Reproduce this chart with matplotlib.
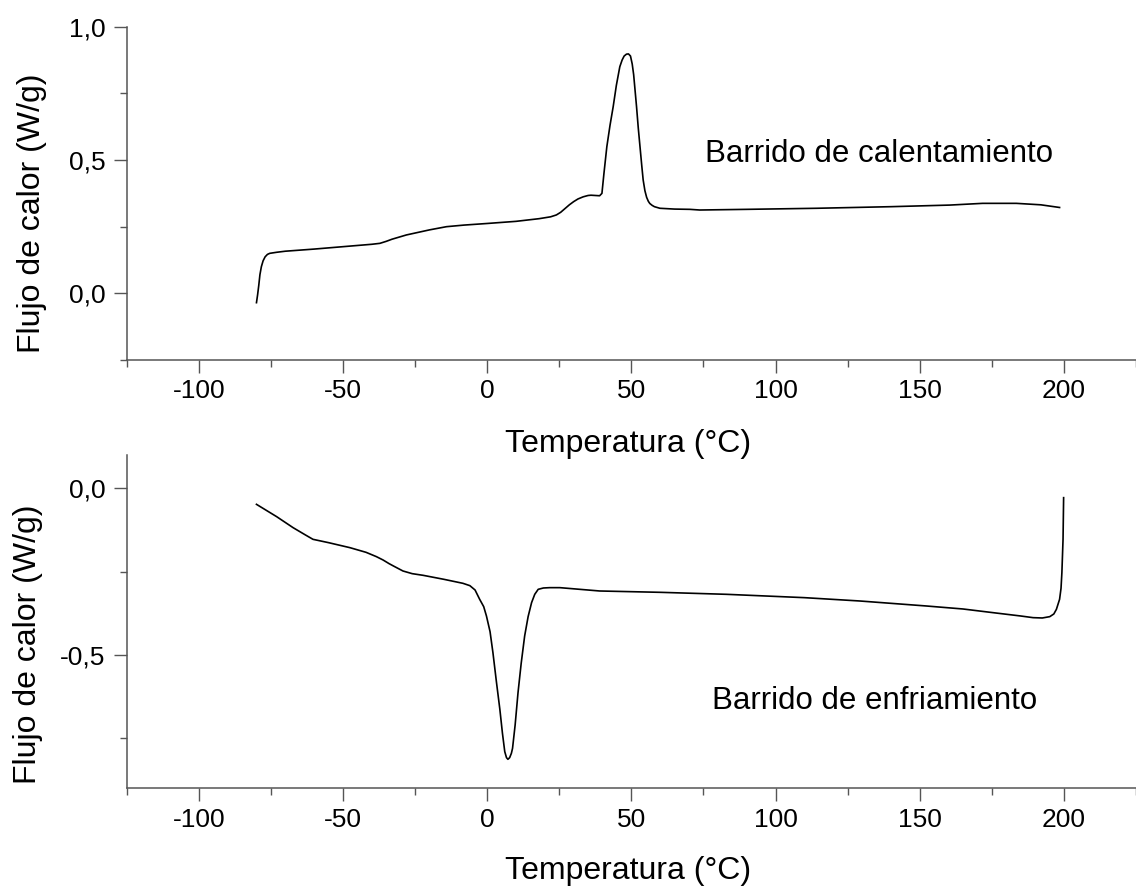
import matplotlib
matplotlib.use("Agg")
import matplotlib.pyplot as plt
from matplotlib.ticker import MultipleLocator

plt.rcParams['font.family'] = ['Liberation Sans', 'DejaVu Sans']

# Heating scan (Barrido de calentamiento)
heat_T = [-80.0, -79.6, -79.2, -78.8, -78.3, -77.7, -77.0, -76.2, -75.4, -73.0, -70.0,
          -60.0, -50.0, -40.0, -37.2, -35.0, -33.0, -28.0, -20.0, -14.1, -8.0, 0.0,
          10.0, 18.0, 22.0, 24.0, 25.5, 27.0, 28.5, 30.0, 31.5, 33.3, 35.0, 36.0,
          37.5, 39.0, 39.8, 40.5, 41.5, 42.6, 43.7, 44.8, 46.0, 46.8, 47.5, 48.3,
          49.0, 49.7, 50.3, 50.8, 51.3, 51.8, 52.4, 53.0, 53.6, 54.1, 54.7, 55.3,
          55.9, 56.4, 57.2, 58.0, 59.9, 65.0, 70.3, 73.7, 90.0, 114.2, 140.0, 160.4,
          171.8, 183.5, 192.0, 198.5]
heat_Q = [-0.035, -0.005, 0.03, 0.07, 0.10, 0.122, 0.137, 0.146, 0.15, 0.154, 0.158,
          0.166, 0.175, 0.184, 0.1875, 0.195, 0.203, 0.219, 0.238, 0.25, 0.256, 0.262,
          0.27, 0.28, 0.287, 0.294, 0.304, 0.318, 0.332, 0.344, 0.354, 0.362, 0.367,
          0.368, 0.367, 0.366, 0.375, 0.45, 0.55, 0.63, 0.70, 0.78, 0.85, 0.875, 0.89,
          0.897, 0.898, 0.89, 0.86, 0.82, 0.76, 0.70, 0.62, 0.55, 0.48, 0.425, 0.385,
          0.36, 0.345, 0.337, 0.33, 0.325, 0.319, 0.316, 0.315, 0.3125, 0.315, 0.319,
          0.325, 0.331, 0.3375, 0.3375, 0.332, 0.322]

# Cooling scan (Barrido de enfriamiento)
cool_T = [-80.0, -73.0, -67.3, -63.0, -60.4, -55.0, -47.6, -42.0, -38.4, -36.1, -34.0,
          -32.5, -29.2, -26.0, -22.2, -15.0, -8.4, -6.0, -4.2, -2.6, -1.2, -0.25, 1.0,
          2.0, 3.2, 4.4, 5.3, 6.1, 6.7, 7.2, 7.8, 8.4, 8.8, 9.7, 10.7, 11.8, 13.0,
          14.2, 15.4, 16.5, 17.7, 19.5, 21.7, 25.2, 39.0, 60.0, 83.0, 110.0, 129.2,
          152.3, 165.0, 175.4, 185.0, 189.3, 192.5, 195.1, 196.5, 197.4, 198.5, 199.0,
          199.3, 199.7, 199.9]
cool_Q = [-0.048, -0.085, -0.118, -0.14, -0.153, -0.163, -0.178, -0.192, -0.205, -0.215,
          -0.226, -0.233, -0.248, -0.256, -0.261, -0.273, -0.285, -0.292, -0.305, -0.333,
          -0.355, -0.383, -0.43, -0.493, -0.58, -0.663, -0.735, -0.79, -0.808, -0.813,
          -0.808, -0.795, -0.78, -0.71, -0.613, -0.525, -0.443, -0.385, -0.343, -0.318,
          -0.303, -0.299, -0.298, -0.298, -0.308, -0.312, -0.318, -0.328, -0.338,
          -0.353, -0.362, -0.373, -0.383, -0.388, -0.389, -0.385, -0.377, -0.363,
          -0.333, -0.30, -0.253, -0.153, -0.028]

x_ticks = [-100, -50, 0, 50, 100, 150, 200]
x_tick_labels = ['-100', '-50', '0', '50', '100', '150', '200']
heat_y_ticks = [0.0, 0.5, 1.0]
heat_y_labels = ['0,0', '0,5', '1,0']
cool_y_ticks = [-0.5, 0.0]
cool_y_labels = ['-0,5', '0,0']

x_label = 'Temperatura (°C)'
y_label = 'Flujo de calor (W/g)'
heat_text = 'Barrido de calentamiento'
cool_text = 'Barrido de enfriamiento'

W, H = 1136, 890
fig = plt.figure(figsize=(W / 100, H / 100), dpi=100)
ax1 = fig.add_axes([126.7 / W, 1 - 360 / H, 1 - 126.7 / W, (360 - 26.7) / H])
ax2 = fig.add_axes([126.7 / W, 1 - 788.3 / H, 1 - 126.7 / W, (788.3 - 455) / H])

spine_col = '#555555'
for ax in (ax1, ax2):
    for s in ('top', 'right'):
        ax.spines[s].set_visible(False)
    for s in ('left', 'bottom'):
        ax.spines[s].set_color(spine_col)
        ax.spines[s].set_linewidth(1.1)
    ax.set_xlim(-125, 225)
    ax.set_xticks(x_ticks)
    ax.set_xticklabels(x_tick_labels)
    ax.xaxis.set_minor_locator(MultipleLocator(25))
    ax.yaxis.set_minor_locator(MultipleLocator(0.25))
    ax.tick_params(which='major', direction='out', length=9.5, width=1.0,
                   color=spine_col, labelsize=19, pad=4.5)
    ax.tick_params(which='minor', direction='out', length=5, width=1.0,
                   color=spine_col)
    ax.tick_params(axis='y', which='major', pad=6)
    ax.patch.set_alpha(0)

ax1.plot(heat_T, heat_Q, color='black', lw=1.2)
ax1.set_ylim(-0.25, 1.0)
ax1.set_yticks(heat_y_ticks)
ax1.set_yticklabels(heat_y_labels)
ax1.text(75.4, 0.491, heat_text, fontsize=22.5, ha='left', va='baseline')

ax2.plot(cool_T, cool_Q, color='black', lw=1.2)
ax2.set_ylim(-0.9, 0.1)
ax2.set_yticks(cool_y_ticks)
ax2.set_yticklabels(cool_y_labels)
ax2.text(77.9, -0.663, cool_text, fontsize=22.5, ha='left', va='baseline')

fig.text(32 / W, 1 - 213.5 / H, y_label, rotation=90, fontsize=23, ha='center', va='center')
fig.text(28 / W, 1 - 644 / H, y_label, rotation=90, fontsize=23, ha='center', va='center')
fig.text(628 / W, 1 - 444 / H, x_label, fontsize=23, ha='center', va='center')
fig.text(628 / W, 1 - 871 / H, x_label, fontsize=23, ha='center', va='center')

fig.savefig('out.png', dpi=100, facecolor='white')
